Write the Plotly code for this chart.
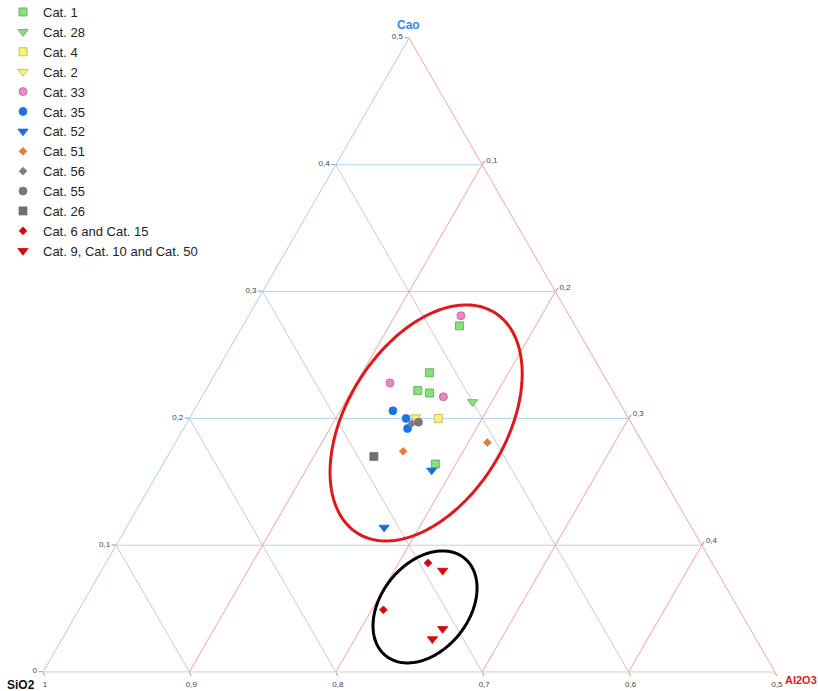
import numpy as np
import plotly.graph_objects as go

# ---- data (CaO, Al2O3, SiO2 fractions) ----
cat1_cao = [0.273, 0.236, 0.222, 0.220, 0.164]
cat1_al = [0.148, 0.146, 0.145, 0.154, 0.186]
cat1_si = [0.579, 0.618, 0.633, 0.626, 0.650]

cat28_cao = [0.213]
cat28_al = [0.187]
cat28_si = [0.600]

cat4_cao = [0.200]
cat4_al = [0.170]
cat4_si = [0.630]

cat2_cao = [0.201]
cat2_al = [0.154]
cat2_si = [0.645]

cat33_cao = [0.281, 0.228, 0.217]
cat33_al = [0.145, 0.123, 0.165]
cat33_si = [0.574, 0.649, 0.618]

cat35_cao = [0.206, 0.200, 0.192]
cat35_al = [0.136, 0.148, 0.153]
cat35_si = [0.658, 0.652, 0.655]

cat52_cao = [0.159, 0.114]
cat52_al = [0.186, 0.176]
cat52_si = [0.655, 0.710]

cat51_cao = [0.181, 0.174]
cat51_al = [0.213, 0.159]
cat51_si = [0.606, 0.667]

cat56_cao = [0.196]
cat56_al = [0.154]
cat56_si = [0.650]

cat55_cao = [0.197]
cat55_al = [0.158]
cat55_si = [0.645]

cat26_cao = [0.170]
cat26_al = [0.141]
cat26_si = [0.689]

cat6_15_cao = [0.086, 0.049]
cat6_15_al = [0.220, 0.208]
cat6_15_si = [0.694, 0.743]

cat9_10_50_cao = [0.080, 0.034, 0.026]
cat9_10_50_al = [0.233, 0.256, 0.253]
cat9_10_50_si = [0.687, 0.710, 0.721]

# ellipse annotations: centre (CaO, Al2O3), semi-axes, tilt in degrees
red_ellipse = dict(cao=0.1964, al=0.1635, major=0.0887, minor=0.0542, angle=58.2)
black_ellipse = dict(cao=0.0513, al=0.2353, major=0.0428, minor=0.0299, angle=51.2)


def ellipse_points(e, n=240):
    s3 = np.sqrt(3) / 2
    cx = e["al"] + e["cao"] / 2
    cy = e["cao"] * s3
    t = np.linspace(0, 2 * np.pi, n)
    th = np.radians(e["angle"])
    x = cx + e["major"] * np.cos(t) * np.cos(th) - e["minor"] * np.sin(t) * np.sin(th)
    y = cy + e["major"] * np.cos(t) * np.sin(th) + e["minor"] * np.sin(t) * np.cos(th)
    cao = y / s3
    al = x - cao / 2
    si = 1 - cao - al
    return cao, si, al


fig = go.Figure()

for e, col in [(red_ellipse, "#e0181b"), (black_ellipse, "#000000")]:
    a, b, c = ellipse_points(e)
    fig.add_trace(go.Scatterternary(a=a, b=b, c=c, mode="lines",
                                    line=dict(color=col, width=3),
                                    showlegend=False, hoverinfo="skip"))

series = [
    ("Cat. 1", cat1_cao, cat1_si, cat1_al, "square", "#86e07c", "#5aa852", 8),
    ("Cat. 28", cat28_cao, cat28_si, cat28_al, "triangle-down", "#86e07c", "#5aa852", 9),
    ("Cat. 4", cat4_cao, cat4_si, cat4_al, "square", "#f7f27a", "#b8b44a", 8),
    ("Cat. 2", cat2_cao, cat2_si, cat2_al, "triangle-down", "#f7f27a", "#b8b44a", 9),
    ("Cat. 33", cat33_cao, cat33_si, cat33_al, "circle", "#ee86c4", "#b8608f", 8),
    ("Cat. 35", cat35_cao, cat35_si, cat35_al, "circle", "#1c74e2", "#1c74e2", 8),
    ("Cat. 52", cat52_cao, cat52_si, cat52_al, "triangle-down", "#1c6fd8", "#1c6fd8", 9),
    ("Cat. 51", cat51_cao, cat51_si, cat51_al, "diamond", "#e97a3c", "#e97a3c", 6),
    ("Cat. 56", cat56_cao, cat56_si, cat56_al, "diamond", "#7d7d7d", "#7d7d7d", 6),
    ("Cat. 55", cat55_cao, cat55_si, cat55_al, "circle", "#777777", "#777777", 8),
    ("Cat. 26", cat26_cao, cat26_si, cat26_al, "square", "#6f6f6f", "#6f6f6f", 8),
    ("Cat. 6 and Cat. 15", cat6_15_cao, cat6_15_si, cat6_15_al, "diamond", "#d40a0a", "#d40a0a", 6),
    ("Cat. 9, Cat. 10 and Cat. 50", cat9_10_50_cao, cat9_10_50_si, cat9_10_50_al,
     "triangle-down", "#d40a0a", "#d40a0a", 9),
]

for name, a, b, c, sym, fill, edge, size in series:
    fig.add_trace(go.Scatterternary(
        a=a, b=b, c=c, mode="markers", name=name,
        marker=dict(symbol=sym, color=fill, size=size, line=dict(color=edge, width=0.8)),
    ))

# plot area: x 43..775, y 38..672 (732 x 634)


def px(x):
    return (x - 43) / 732


def py(y):
    return (672 - y) / 634


tick_font = dict(size=8, color="#444444")
title_font = dict(family="Liberation Sans, Arial, sans-serif", size=12)
fig.update_layout(
    width=818, height=691,
    margin=dict(l=43, r=43, t=38, b=19, autoexpand=False),
    paper_bgcolor="white",
    separators=",.",
    font=dict(family="Liberation Sans, Arial, sans-serif", color="#222222"),
    ternary=dict(
        sum=1,
        bgcolor="white",
        domain=dict(x=[0, 1], y=[0, 1]),
        aaxis=dict(title=dict(text=""),
                   min=0, dtick=0.1, tickfont=tick_font, ticks="outside", ticklen=4,
                   tickcolor="#999999", linecolor="#a6cdef", gridcolor="#b3d5f2",
                   linewidth=1, gridwidth=1.3),
        baxis=dict(title=dict(text=""),
                   min=0.5, dtick=0.1, tickfont=tick_font, ticks="outside", ticklen=4,
                   tickcolor="#999999", linecolor="#cccccc", gridcolor="#c9c9c9",
                   linewidth=1, gridwidth=1),
        caxis=dict(title=dict(text=""),
                   min=0, tickvals=[0.1, 0.2, 0.3, 0.4], tickfont=tick_font,
                   ticks="outside", ticklen=4, tickcolor="#999999",
                   linecolor="#f0a3a3", gridcolor="#f2a9a9", linewidth=1, gridwidth=1),
    ),
    annotations=[
        dict(text="<b>Cao</b>", x=px(408), y=py(25), xref="paper", yref="paper",
             xanchor="center", yanchor="middle", showarrow=False,
             font=dict(title_font, color="#2b8be6")),
        dict(text="<b>SiO2</b>", x=px(21), y=py(684.5), xref="paper", yref="paper",
             xanchor="center", yanchor="middle", showarrow=False,
             font=dict(title_font, color="#111111")),
        dict(text="<b>Al2O3</b>", x=px(801), y=py(680), xref="paper", yref="paper",
             xanchor="center", yanchor="middle", showarrow=False,
             font=dict(title_font, size=11, color="#e0181b")),
    ],
    legend=dict(x=px(3), y=py(-3), xref="paper", yref="paper", xanchor="left",
                yanchor="top", font=dict(size=13, color="#222222"),
                bgcolor="rgba(0,0,0,0)"),
    showlegend=True,
)

fig.write_html("out.html", config={"displayModeBar": False},
               post_script="document.body.style.margin='0';")
